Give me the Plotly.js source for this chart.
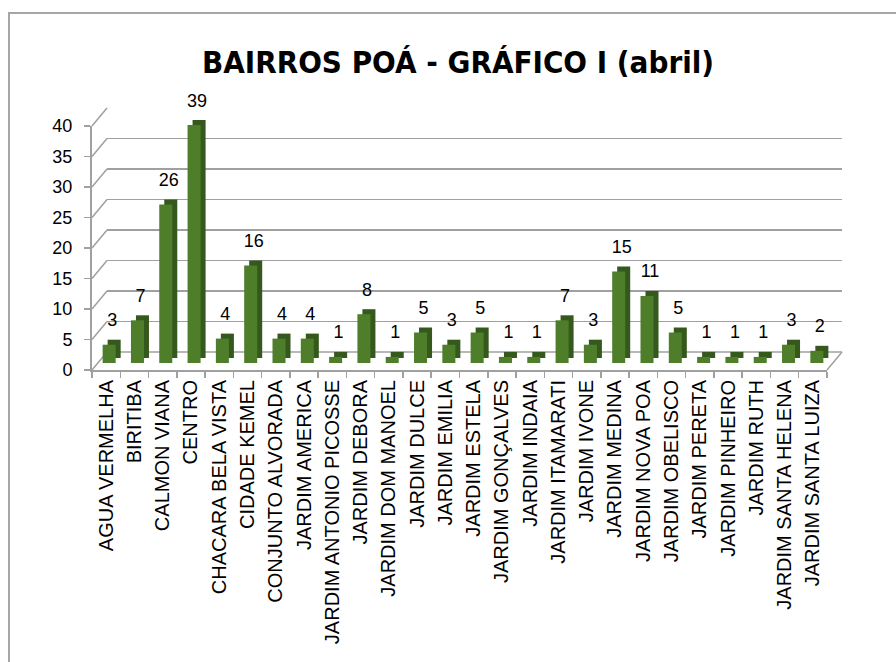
<!DOCTYPE html>
<html>
<head>
<meta charset="utf-8">
<script src="https://cdn.plot.ly/plotly-3.0.1.min.js"></script>
<style>
html,body{margin:0;padding:0;background:#fff;overflow:hidden;}
#chart{position:absolute;left:0;top:0;width:896px;height:662px;}
#frame{position:absolute;left:8px;top:12px;width:1000px;height:1000px;border:2px solid #a6a6a6;pointer-events:none;}
</style>
</head>
<body>
<div id="chart"></div>
<div id="frame"></div>
<script>
// ---- data ----
const categories = [
  "AGUA VERMELHA","BIRITIBA","CALMON VIANA","CENTRO","CHACARA BELA VISTA",
  "CIDADE KEMEL","CONJUNTO ALVORADA","JARDIM AMERICA","JARDIM ANTONIO PICOSSE",
  "JARDIM DEBORA","JARDIM DOM MANOEL","JARDIM DULCE","JARDIM EMILIA","JARDIM ESTELA",
  "JARDIM GONÇALVES","JARDIM INDAIA","JARDIM ITAMARATI","JARDIM IVONE","JARDIM MEDINA",
  "JARDIM NOVA POA","JARDIM OBELISCO","JARDIM PERETA","JARDIM PINHEIRO","JARDIM RUTH",
  "JARDIM SANTA HELENA","JARDIM SANTA LUIZA"
];
const values = [3,7,26,39,4,16,4,4,1,8,1,5,3,5,1,1,7,3,15,11,5,1,1,1,3,2];
const yTicks = [0,5,10,15,20,25,30,35,40];
const titleText = "BAIRROS POÁ - GRÁFICO I (abril)";

// ---- geometry helpers ----
const W = 896, H = 662;
const fx = p => p / W;
const fy = p => 1 - p / H;
const YMAX = 40;
// front axis frame
const F = {x0:92, x1:827, y0:370, y1:126};
// back wall frame
const B = {x0:107, x1:842, y0:352, y1:108};
// bar side (dark) frame
const D = {x0:100, x1:836, y0:358, y1:114};
// bar front face frame
const R = {x0:95, x1:831, y0:363, y1:119};
// value label frame
const T = {x0:98, x1:834, y0:340, y1:96};

const catRange = [-0.5, categories.length - 0.5];
const gridCol = '#a0a0a0';
const txtFont = 'Liberation Sans, Arial, sans-serif';

function hiddenX(fr, anchor){
  return {domain:[fx(fr.x0), fx(fr.x1)], type:'category', range:catRange, visible:false,
          anchor:anchor, fixedrange:true, categoryorder:'array', categoryarray:categories};
}
function hiddenY(fr, anchor){
  return {domain:[fy(fr.y0), fy(fr.y1)], range:[0,YMAX], visible:false, anchor:anchor, fixedrange:true};
}

const traces = [
  // invisible trace to establish front axes
  {type:'bar', x:categories, y:values, xaxis:'x', yaxis:'y', marker:{color:'rgba(0,0,0,0)'},
   hoverinfo:'skip', showlegend:false},
  // back wall placeholder
  {type:'scatter', mode:'none', x:categories, y:values, xaxis:'x2', yaxis:'y2', hoverinfo:'skip', showlegend:false},
  // dark side of bars
  {type:'bar', x:categories, y:values, xaxis:'x3', yaxis:'y3', width:0.46,
   marker:{color:'#35581c'}, hoverinfo:'skip', showlegend:false},
  // front face of bars
  {type:'bar', x:categories, y:values, xaxis:'x4', yaxis:'y4', width:0.46,
   marker:{color:'#4f7e2b'}, showlegend:false},
  // value labels
  {type:'scatter', mode:'text', x:categories, y:values, text:values.map(String),
   textposition:'middle center', textfont:{family:txtFont, size:18, color:'#000'},
   xaxis:'x5', yaxis:'y5', cliponaxis:false, hoverinfo:'skip', showlegend:false}
];

// diagonal connectors from the front axis to the back wall
const shapes = [];
yTicks.forEach(v => {
  const yf = F.y0 - v * (F.y0 - F.y1) / YMAX;
  const yb = B.y0 - v * (B.y0 - B.y1) / YMAX;
  shapes.push({type:'line', xref:'paper', yref:'paper', x0:fx(F.x0), y0:fy(yf), x1:fx(B.x0), y1:fy(yb),
               line:{color:gridCol, width:1.5}, layer:'below'});
});
// floor right edge and back edge
shapes.push({type:'line', xref:'paper', yref:'paper', x0:fx(F.x1), y0:fy(F.y0), x1:fx(B.x1), y1:fy(B.y0),
             line:{color:gridCol, width:1.5}, layer:'below'});
shapes.push({type:'line', xref:'paper', yref:'paper', x0:fx(B.x0), y0:fy(B.y0), x1:fx(B.x1), y1:fy(B.y0),
             line:{color:gridCol, width:1.5}, layer:'below'});

const layout = {
  width:W, height:H,
  margin:{l:0, r:0, t:0, b:0},
  paper_bgcolor:'#ffffff', plot_bgcolor:'rgba(0,0,0,0)',
  showlegend:false,
  bargap:0.54,
  title:{text:titleText, font:{family:'Liberation Sans Narrow, DejaVu Sans Condensed, Arial Narrow, sans-serif', size:31, weight:700, color:'#000'},
         x:fx(458), xanchor:'center', xref:'paper', y:fy(62), yanchor:'middle', yref:'paper'},
  xaxis:{domain:[fx(F.x0), fx(F.x1)], type:'category', range:catRange, anchor:'y',
         categoryorder:'array', categoryarray:categories,
         tickson:'boundaries', ticks:'outside', ticklen:6, tickcolor:gridCol, tickwidth:1.5,
         tickangle:-90, tickfont:{family:txtFont, size:20, color:'#000'},
         showline:true, linecolor:gridCol, linewidth:2, showgrid:false, fixedrange:true},
  yaxis:{domain:[fy(F.y0), fy(F.y1)], range:[0,YMAX], tickvals:yTicks, ticktext:yTicks.map(String), anchor:'x',
         ticks:'outside', ticklen:6, tickcolor:gridCol, tickwidth:1.5, ticklabelstandoff:8,
         tickfont:{family:txtFont, size:18, color:'#000'},
         showline:true, linecolor:gridCol, linewidth:2, showgrid:false, zeroline:false, fixedrange:true},
  xaxis2:hiddenX(B,'y2'),
  yaxis2:{domain:[fy(B.y0), fy(B.y1)], range:[0,YMAX], tickvals:yTicks, anchor:'x2',
          showticklabels:false, ticks:'', showline:false, showgrid:true, gridcolor:gridCol, gridwidth:1.5,
          zeroline:false, fixedrange:true},
  xaxis3:hiddenX(D,'y3'), yaxis3:hiddenY(D,'x3'),
  xaxis4:hiddenX(R,'y4'), yaxis4:hiddenY(R,'x4'),
  xaxis5:hiddenX(T,'y5'), yaxis5:hiddenY(T,'x5'),
  shapes:shapes
};

Plotly.newPlot('chart', traces, layout, {displayModeBar:false, staticPlot:true});
</script>
</body>
</html>
